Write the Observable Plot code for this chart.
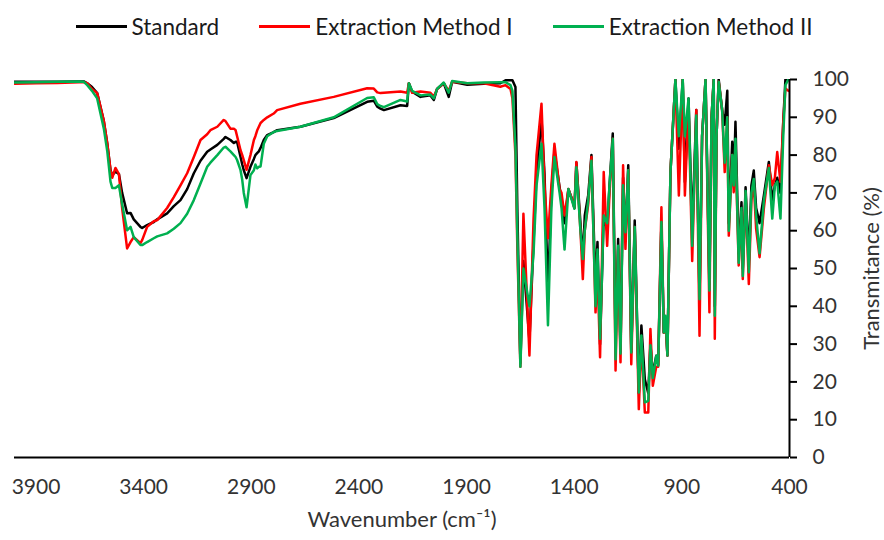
<!DOCTYPE html>
<html>
<head>
<meta charset="utf-8">
<script src="https://cdn.jsdelivr.net/npm/d3@7"></script>
<script src="https://cdn.jsdelivr.net/npm/@observablehq/plot@0.6"></script>
<style>
  body { margin: 0; background: #fff; font-family: Lato, sans-serif; }
  #legend { height: 52px; display: flex; justify-content: center; align-items: center; padding-left: 4px; box-sizing: border-box; width: 884px; }
  .item { display: flex; align-items: center; margin: 0 20px; font-size: 22.5px; color: #1a1a1a; }
  .sw { display: inline-block; width: 51px; height: 3px; margin-right: 5px; }
</style>
</head>
<body>
<div id="legend"></div>
<div id="chart"></div>
<script>
const seriesNames = ["Standard", "Extraction Method I", "Extraction Method II"];
const seriesColors = ["#000000", "#ff0000", "#00b050"];
const xTicks = [3900, 3400, 2900, 2400, 1900, 1400, 900, 400];
const yTicks = [0, 10, 20, 30, 40, 50, 60, 70, 80, 90, 100];

const wavenumber = [4000, 3900, 3800, 3700, 3678, 3662, 3640, 3616, 3585, 3569, 3554, 3546, 3531, 3515, 3500, 3477, 3461, 3446, 3415, 3407, 3384, 3353, 3337, 3291, 3260, 3229, 3198, 3167, 3136, 3105, 3090, 3058, 3028, 3020, 2997, 2981, 2973, 2966, 2950, 2942, 2935, 2922, 2904, 2888, 2881, 2873, 2865, 2857, 2842, 2826, 2796, 2780, 2672, 2517, 2362, 2331, 2315, 2300, 2284, 2207, 2176, 2168, 2153, 2114, 2068, 2052, 2037, 2006, 1983, 1967, 1897, 1820, 1743, 1719, 1696, 1687, 1673, 1664, 1650, 1636, 1608, 1589, 1575, 1552, 1538, 1522, 1506, 1492, 1468, 1459, 1445, 1427, 1408, 1399, 1390, 1371, 1360, 1351, 1335, 1320, 1301, 1292, 1280, 1263, 1247, 1236, 1221, 1208, 1196, 1185, 1173, 1162, 1149, 1135, 1119, 1100, 1088, 1072, 1056, 1046, 1035, 1019, 1010, 995, 984, 976, 967, 953, 930, 914, 896, 886, 869, 852, 833, 818, 806, 790, 772, 762, 752, 747, 739, 729, 713, 701, 689, 682, 666, 659, 651, 636, 623, 617, 604, 589, 577, 566, 555, 539, 519, 496, 480, 468, 457, 442, 429, 419, 405];

const standard = [99.4, 99.4, 99.4, 99.5, 99.5, 99.0, 98.0, 96.4, 89.0, 83.0, 76.0, 74.7, 75.6, 75.0, 70.0, 64.6, 64.7, 63.0, 61.0, 60.7, 61.5, 62.3, 63.0, 64.6, 66.5, 68.1, 71.0, 75.2, 78.5, 80.9, 81.5, 82.7, 84.3, 84.8, 84.0, 83.2, 83.5, 83.5, 79.5, 77.5, 76.0, 73.9, 76.9, 79.0, 80.0, 80.5, 81.0, 81.9, 84.0, 85.3, 86.1, 86.6, 87.5, 89.8, 94.1, 94.4, 92.8, 92.3, 91.9, 93.2, 93.0, 99.0, 96.8, 95.4, 95.8, 94.6, 97.5, 99.0, 95.4, 99.4, 98.6, 98.9, 99.0, 99.8, 99.8, 99.8, 98.0, 65.0, 25.0, 52.0, 31.0, 57.0, 75.0, 89.6, 75.0, 44.0, 70.0, 81.0, 71.5, 68.0, 62.0, 71.0, 68.0, 66.0, 78.0, 62.0, 52.0, 64.0, 69.4, 80.0, 45.0, 57.0, 30.0, 64.0, 60.0, 72.0, 85.7, 30.0, 57.8, 28.0, 74.0, 58.0, 77.3, 28.0, 62.7, 17.0, 34.9, 20.7, 17.0, 30.0, 22.0, 26.9, 24.5, 62.0, 33.1, 36.0, 27.0, 75.5, 100, 81.7, 100, 72.9, 95.0, 60.0, 91.9, 42.0, 85.0, 100, 46.0, 90.0, 100, 40.0, 85.0, 100, 92.0, 88.0, 97.0, 62.0, 83.5, 72.0, 88.8, 54.0, 67.5, 50.0, 71.5, 52.0, 72.0, 75.9, 66.0, 62.0, 69.3, 78.2, 68.0, 72.0, 74.0, 70.0, 88.8, 100, 100];

const methodI = [98.9, 99.0, 99.1, 99.3, 99.3, 99.0, 97.5, 96.4, 89.0, 83.0, 76.0, 74.0, 76.6, 75.0, 66.0, 55.3, 57.0, 58.3, 56.7, 57.5, 61.0, 62.5, 62.8, 66.0, 68.9, 72.0, 75.2, 79.5, 84.0, 85.5, 86.6, 87.5, 89.3, 89.0, 87.0, 87.0, 86.6, 85.0, 81.3, 80.0, 78.7, 76.1, 80.0, 84.0, 85.0, 86.5, 87.5, 88.5, 89.3, 90.0, 91.0, 91.9, 93.6, 95.4, 97.7, 97.6, 96.6, 96.4, 96.5, 96.8, 96.5, 99.0, 96.5, 96.8, 96.5, 95.5, 97.5, 99.0, 97.0, 99.4, 99.0, 99.0, 98.1, 98.5, 97.5, 95.0, 80.0, 55.0, 24.0, 64.5, 27.0, 63.0, 80.0, 93.6, 72.0, 58.0, 72.0, 83.0, 71.0, 70.0, 64.0, 71.0, 68.0, 66.0, 78.2, 60.0, 47.2, 60.0, 67.0, 79.5, 38.4, 50.0, 26.5, 75.5, 56.0, 70.0, 84.3, 23.0, 55.0, 25.2, 77.3, 55.2, 76.0, 24.7, 61.0, 12.8, 31.5, 11.9, 11.9, 34.0, 19.0, 24.0, 24.0, 66.2, 33.0, 36.0, 27.0, 75.5, 100, 69.3, 100, 69.3, 93.0, 52.0, 91.9, 32.2, 85.0, 100, 38.4, 90.0, 100, 31.4, 85.0, 99.4, 92.0, 75.5, 90.0, 58.7, 80.0, 70.2, 82.0, 50.8, 65.0, 47.2, 70.0, 45.9, 68.0, 72.5, 60.5, 53.0, 66.0, 77.3, 72.0, 74.0, 80.8, 72.9, 88.8, 97.6, 97.0];

const methodII = [99.2, 99.3, 99.4, 99.5, 99.4, 98.5, 97.0, 95.0, 87.0, 81.0, 73.0, 71.3, 71.3, 72.0, 67.0, 60.1, 61.0, 58.3, 56.2, 56.2, 57.0, 58.0, 58.5, 59.3, 60.5, 62.0, 64.5, 68.1, 72.5, 76.9, 78.0, 80.0, 82.0, 82.2, 81.0, 80.0, 79.5, 78.7, 76.0, 73.4, 70.0, 66.2, 74.7, 76.0, 77.5, 76.5, 76.9, 77.0, 83.0, 85.0, 86.1, 86.4, 87.5, 90.0, 95.1, 95.3, 93.5, 93.0, 92.7, 94.6, 94.2, 99.0, 97.0, 95.8, 96.0, 95.0, 97.5, 99.2, 96.5, 99.6, 99.0, 99.2, 99.3, 99.3, 98.5, 97.0, 82.0, 58.0, 24.0, 50.0, 40.0, 54.0, 72.0, 83.0, 66.0, 35.0, 66.0, 79.5, 70.0, 66.0, 55.0, 71.0, 67.5, 65.8, 76.8, 60.0, 52.5, 60.0, 68.0, 78.5, 40.0, 55.0, 31.4, 64.0, 62.0, 72.0, 84.3, 26.0, 56.0, 27.5, 72.0, 59.6, 76.0, 27.8, 61.0, 17.2, 32.3, 14.6, 15.0, 29.7, 21.0, 26.9, 24.3, 62.3, 33.1, 37.5, 27.0, 75.5, 100, 85.0, 100, 85.0, 95.0, 56.0, 90.5, 41.9, 85.0, 100, 44.2, 90.0, 100, 37.5, 85.0, 99.4, 92.0, 78.0, 90.0, 60.0, 80.0, 72.0, 84.3, 51.5, 66.0, 48.0, 70.5, 49.0, 70.0, 73.7, 64.0, 54.0, 68.0, 76.6, 63.2, 72.0, 73.0, 63.2, 85.0, 98.5, 100];

const seriesValues = [standard, methodI, methodII];

// legend
const legend = document.getElementById("legend");
seriesNames.forEach((name, i) => {
  const item = document.createElement("div");
  item.className = "item";
  const sw = document.createElement("span");
  sw.className = "sw";
  sw.style.background = seriesColors[i];
  item.appendChild(sw);
  item.appendChild(document.createTextNode(name));
  legend.appendChild(item);
});

const lineMarks = seriesValues.map((vals, i) =>
  Plot.line(wavenumber.map((w, j) => ({w, t: vals[j]})), {
    x: "w", y: "t", stroke: seriesColors[i], strokeWidth: 2.5, clip: true, strokeLinejoin: "round"
  })
);

const chart = Plot.plot({
  width: 884,
  height: 488,
  marginLeft: 14,
  marginRight: 95,
  marginTop: 27,
  marginBottom: 83,
  style: {fontFamily: "Lato, sans-serif", fontSize: "21px", color: "#333", background: "#fff"},
  x: {domain: [4000, 400]},
  y: {domain: [0, 100]},
  marks: [
    Plot.axisX(xTicks, {tickSize: 0, tickPadding: 22, label: null, tickFormat: d => String(d), fontSize: 21}),
    Plot.axisY(yTicks, {anchor: "right", tickSize: 7, tickPadding: 16, label: null, stroke: "#000", strokeWidth: 2, fontSize: 21, textAnchor: "start"}),
    ...lineMarks,
    Plot.ruleY([0], {stroke: "#000", strokeWidth: 2}),
    Plot.ruleX([400], {stroke: "#000", strokeWidth: 2}),
    Plot.text(["Wavenumber (cm⁻¹)"], {frameAnchor: "bottom", dy: 69, fontSize: 22, fill: "#333"}),
    Plot.text(["Transmitance (%)"], {frameAnchor: "right", textAnchor: "middle", dx: 82, rotate: -90, fontSize: 22, fill: "#333"})
  ]
});
document.getElementById("chart").appendChild(chart);
</script>
</body>
</html>
